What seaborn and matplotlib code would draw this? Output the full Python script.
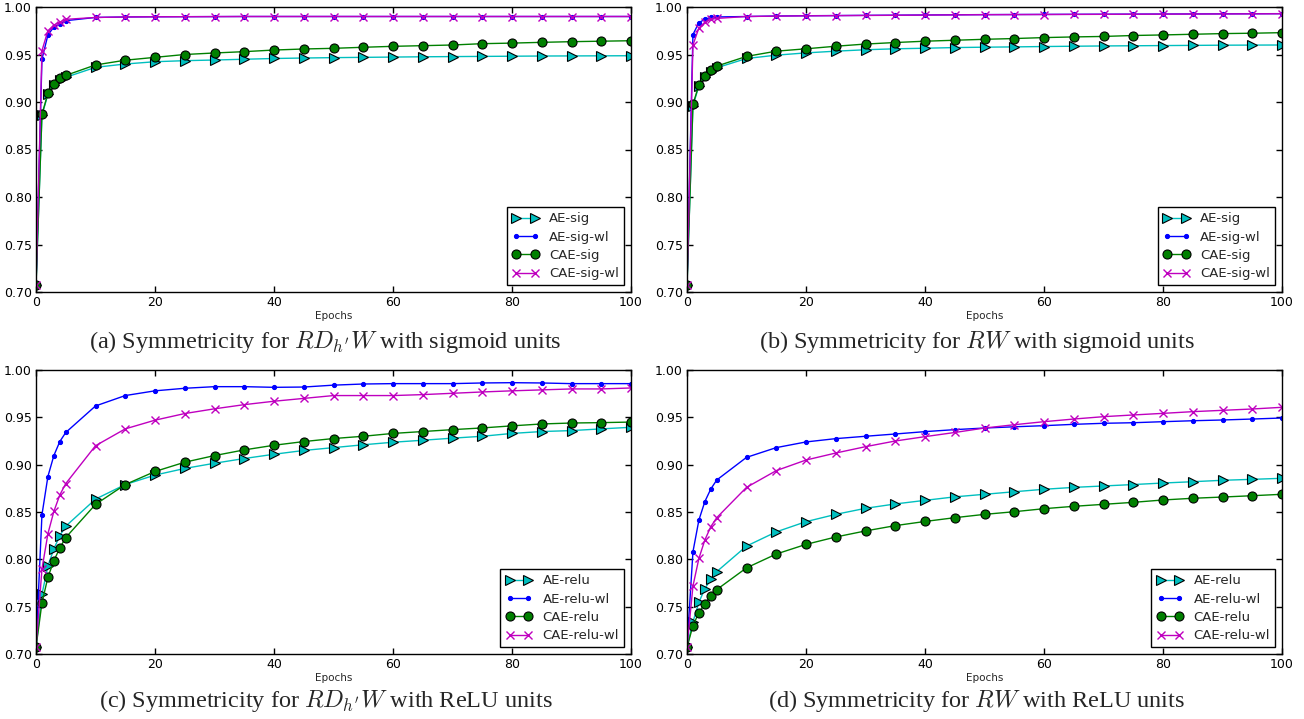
import matplotlib
matplotlib.use('Agg')
import matplotlib.pyplot as plt
import seaborn as sns
import numpy as np

sns.set_theme(style="white", color_codes=False)
plt.rcParams.update({
    'font.family': ['DejaVu Sans'],
    'mathtext.fontset': 'cm',
    'axes.edgecolor': 'black',
    'axes.linewidth': 1.0,
    'xtick.direction': 'in',
    'ytick.direction': 'in',
    'xtick.top': True,
    'ytick.right': True,
    'xtick.bottom': True,
    'ytick.left': True,
    'xtick.major.size': 4,
    'ytick.major.size': 4,
    'xtick.color': 'black',
    'ytick.color': 'black',
})

# epochs at which symmetricity was measured
epochs = [0, 1, 2, 3, 4, 5, 10, 15, 20, 25, 30, 35, 40, 45, 50,
          55, 60, 65, 70, 75, 80, 85, 90, 95, 100]

# (a) RD_h'W, sigmoid units
ae_sig_a = [0.707, 0.886, 0.908, 0.918, 0.923, 0.926, 0.9365, 0.940, 0.9424, 0.9435, 0.9442, 0.945, 0.9458,
            0.9463, 0.9467, 0.947, 0.9473, 0.9476, 0.9478, 0.948, 0.9482, 0.9484, 0.9485, 0.9486, 0.9487]
ae_sig_wl_a = [0.707, 0.945, 0.9705, 0.979, 0.982, 0.9856, 0.989, 0.9895, 0.9897, 0.9898, 0.9899, 0.990, 0.990,
               0.990, 0.990, 0.990, 0.990, 0.990, 0.990, 0.990, 0.990, 0.990, 0.990, 0.990, 0.990]
cae_sig_a = [0.707, 0.887, 0.909, 0.919, 0.925, 0.928, 0.939, 0.944, 0.947, 0.950, 0.9516, 0.953, 0.9547,
             0.9558, 0.9565, 0.9576, 0.9586, 0.9593, 0.960, 0.9614, 0.962, 0.9628, 0.9635, 0.964, 0.9645]
cae_sig_wl_a = [0.707, 0.954, 0.975, 0.981, 0.984, 0.987, 0.989, 0.9895, 0.9897, 0.9898, 0.9899, 0.990, 0.990,
                0.990, 0.990, 0.990, 0.990, 0.990, 0.990, 0.990, 0.990, 0.990, 0.990, 0.990, 0.990]

# (b) RW, sigmoid units
ae_sig_b = [0.707, 0.896, 0.917, 0.926, 0.932, 0.936, 0.9458, 0.9493, 0.9517, 0.9535, 0.955, 0.956, 0.9566,
            0.9573, 0.9577, 0.958, 0.9584, 0.9587, 0.959, 0.9592, 0.9594, 0.9596, 0.9598, 0.9599, 0.960]
ae_sig_wl_b = [0.707, 0.971, 0.9836, 0.987, 0.989, 0.9895, 0.990, 0.9905, 0.9908, 0.991, 0.9912, 0.9914, 0.9916,
               0.9918, 0.992, 0.9921, 0.9922, 0.9923, 0.9924, 0.9925, 0.9926, 0.9927, 0.9928, 0.9929, 0.993]
cae_sig_b = [0.707, 0.8975, 0.918, 0.9276, 0.9336, 0.9378, 0.948, 0.9535, 0.956, 0.9587, 0.961, 0.9626, 0.964,
             0.965, 0.966, 0.9668, 0.9678, 0.9685, 0.969, 0.970, 0.9706, 0.9713, 0.972, 0.9724, 0.973]
cae_sig_wl_b = [0.707, 0.960, 0.978, 0.984, 0.987, 0.988, 0.990, 0.9904, 0.9907, 0.9909, 0.9911, 0.9913, 0.9915,
                0.9917, 0.9919, 0.992, 0.9921, 0.9922, 0.9923, 0.9924, 0.9925, 0.9926, 0.9927, 0.9928, 0.9929]

# (c) RD_h'W, ReLU units
ae_relu_c = [0.707, 0.763, 0.793, 0.811, 0.825, 0.835, 0.8636, 0.879, 0.889, 0.896, 0.9015, 0.9065, 0.911,
             0.915, 0.918, 0.921, 0.9237, 0.9258, 0.928, 0.930, 0.933, 0.935, 0.936, 0.9378, 0.9395]
ae_relu_wl_c = [0.707, 0.847, 0.8875, 0.9096, 0.9244, 0.934, 0.962, 0.973, 0.978, 0.9807, 0.9824, 0.9824, 0.9817,
                0.982, 0.984, 0.9852, 0.9856, 0.9856, 0.9856, 0.9863, 0.9866, 0.9863, 0.9856, 0.9856, 0.9856]
cae_relu_c = [0.707, 0.754, 0.781, 0.7985, 0.812, 0.823, 0.858, 0.879, 0.8928, 0.9026, 0.9096, 0.9156, 0.9205,
              0.9244, 0.9276, 0.930, 0.933, 0.935, 0.937, 0.9388, 0.941, 0.943, 0.944, 0.9444, 0.945]
cae_relu_wl_c = [0.707, 0.7897, 0.827, 0.8506, 0.868, 0.880, 0.920, 0.9378, 0.947, 0.954, 0.959, 0.9634, 0.967,
                 0.970, 0.973, 0.973, 0.973, 0.974, 0.9754, 0.9768, 0.978, 0.979, 0.980, 0.980, 0.981]

# (d) RW, ReLU units
ae_relu_d = [0.707, 0.734, 0.7546, 0.769, 0.779, 0.787, 0.814, 0.829, 0.8398, 0.8475, 0.8539, 0.8585, 0.8623,
             0.866, 0.8687, 0.8714, 0.874, 0.876, 0.8775, 0.879, 0.8806, 0.882, 0.8835, 0.8845, 0.8856]
ae_relu_wl_d = [0.707, 0.808, 0.8415, 0.861, 0.8743, 0.8838, 0.9077, 0.918, 0.924, 0.9275, 0.930, 0.9324, 0.9349,
                0.937, 0.9387, 0.940, 0.9412, 0.9426, 0.9437, 0.9443, 0.9454, 0.9464, 0.9472, 0.9482, 0.9493]
cae_relu_d = [0.707, 0.730, 0.7437, 0.7532, 0.7613, 0.768, 0.791, 0.8056, 0.8158, 0.8236, 0.830, 0.8356, 0.840,
              0.844, 0.8475, 0.8503, 0.8535, 0.856, 0.8581, 0.8602, 0.8627, 0.8645, 0.8658, 0.8672, 0.8687]
cae_relu_wl_d = [0.707, 0.7718, 0.801, 0.8204, 0.8345, 0.844, 0.876, 0.8937, 0.9049, 0.9123, 0.919, 0.925, 0.9296,
                 0.934, 0.9387, 0.9422, 0.9454, 0.9482, 0.9507, 0.9525, 0.9542, 0.956, 0.9574, 0.9588, 0.9606]

sig_labels = ['AE-sig', 'AE-sig-wl', 'CAE-sig', 'CAE-sig-wl']
relu_labels = ['AE-relu', 'AE-relu-wl', 'CAE-relu', 'CAE-relu-wl']
captions = [r"(a) Symmetricity for $RD_{h'}W$ with sigmoid units",
            r"(b) Symmetricity for $RW$ with sigmoid units",
            r"(c) Symmetricity for $RD_{h'}W$ with ReLU units",
            r"(d) Symmetricity for $RW$ with ReLU units"]

panels = [
    ([ae_sig_a, ae_sig_wl_a, cae_sig_a, cae_sig_wl_a], sig_labels),
    ([ae_sig_b, ae_sig_wl_b, cae_sig_b, cae_sig_wl_b], sig_labels),
    ([ae_relu_c, ae_relu_wl_c, cae_relu_c, cae_relu_wl_c], relu_labels),
    ([ae_relu_d, ae_relu_wl_d, cae_relu_d, cae_relu_wl_d], relu_labels),
]

# classic matplotlib look (c, b, g, m)
CYAN, BLUE, GREEN, MAGENTA = '#00BFBF', '#0000FF', '#008000', '#BF00BF'
styles = [
    dict(color=CYAN, marker='>', markersize=7, markeredgecolor='k', markeredgewidth=0.8),
    dict(color=BLUE, marker='.', markersize=6, markeredgecolor=BLUE),
    dict(color=GREEN, marker='o', markersize=6.5, markeredgecolor='k', markeredgewidth=0.8),
    dict(color=MAGENTA, marker='x', markersize=6, markeredgecolor=MAGENTA, markeredgewidth=1.0),
]

W, H = 1304, 719
fig = plt.figure(figsize=(W / 100, H / 100), dpi=100)
boxes = [(36, 7, 631, 292), (687, 7, 1282, 292), (36, 370, 631, 654), (687, 370, 1282, 654)]
cap_y = [342, 342, 701, 701]

for i, ((series, labels), (x0, y0, x1, y1)) in enumerate(zip(panels, boxes)):
    ax = fig.add_axes([x0 / W, 1 - y1 / H, (x1 - x0) / W, (y1 - y0) / H])
    for vals, lab, st in zip(series, labels, styles):
        sns.lineplot(x=epochs, y=vals, ax=ax, label=lab, linewidth=1.0, **st)
    ax.set_xlim(0, 100)
    ax.set_ylim(0.70, 1.00)
    ax.set_xticks(np.arange(0, 101, 20))
    ax.set_yticks(np.arange(0.70, 1.001, 0.05))
    ax.set_yticklabels([f'{v:.2f}' for v in np.arange(0.70, 1.001, 0.05)])
    ax.tick_params(labelsize=9, pad=3, width=1)
    ax.set_xlabel('Epochs', fontsize=7.5, labelpad=1)
    ax.set_ylabel('')
    for sp in ax.spines.values():
        sp.set_color('black')
        sp.set_linewidth(1.0)
    leg = ax.legend(loc='lower right', fontsize=9.5, fancybox=False, framealpha=1,
                    edgecolor='black', numpoints=2, handlelength=2.0, borderaxespad=0.5,
                    labelspacing=0.4)
    leg.get_frame().set_linewidth(1.0)
    # caption sits a bit left of the axes centre (subfigure incl. tick labels)
    fig.text(((x0 + x1) / 2 - 8) / W, 1 - cap_y[i] / H, captions[i], ha='center', va='center',
             fontsize=17.5, family='Liberation Serif')

fig.savefig('out.png', dpi=100)
